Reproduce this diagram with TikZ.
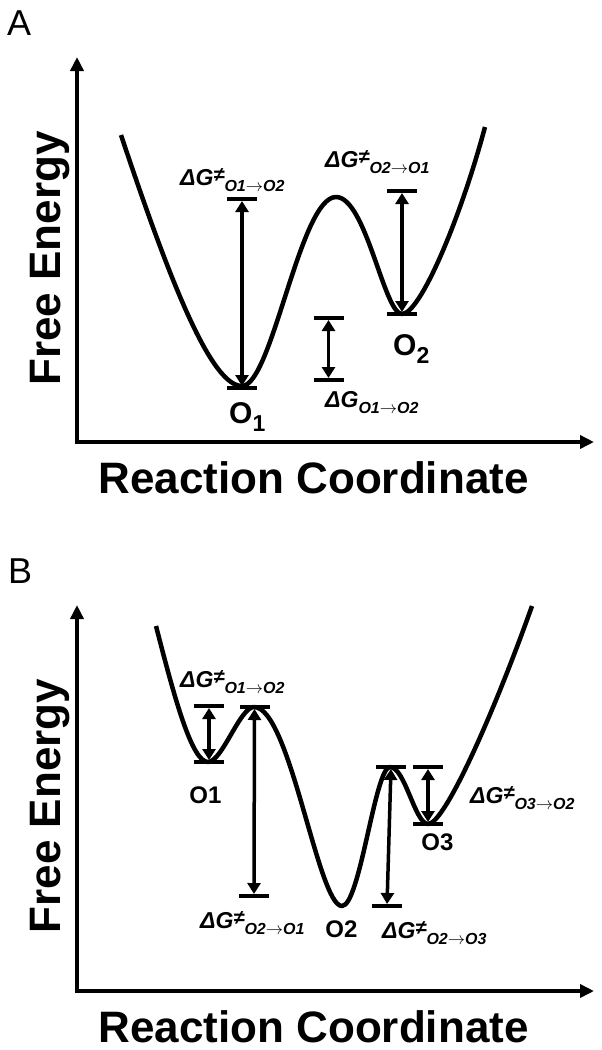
\documentclass[tikz,border=0pt]{standalone}
\usepackage{fontspec}
\setmainfont{Liberation Sans}
\usetikzlibrary{arrows.meta}

\newcommand{\dGts}[2]{\textbf{\textit{\fontsize{23}{23}\selectfont ΔG\raisebox{4pt}{\fontsize{20}{20}\selectfont ≠}\raisebox{-6pt}{\fontsize{16}{16}\selectfont #1$\rightarrow$#2}}}}
\newcommand{\dGeq}[2]{\textbf{\textit{\fontsize{23}{23}\selectfont ΔG\raisebox{-6pt}{\fontsize{16}{16}\selectfont #1$\rightarrow$#2}}}}
\newcommand{\osub}[1]{\raisebox{-8pt}{\fontsize{23}{23}\selectfont #1}}

\begin{document}
\begin{tikzpicture}
    [x=1pt,y=-1pt,
    axis/.style={-{Triangle[length=14pt,width=13pt]},line width=4.5pt,line cap=rect},
    curve/.style={line width=4.5pt,line join=round},
    level/.style={line width=4pt},
    gap/.style={{Triangle[length=11pt,width=13pt]}-{Triangle[length=11pt,width=13pt]},line width=3.5pt,shorten <=2pt,shorten >=2pt},
    panel/.style={font=\fontsize{36}{36}\selectfont,anchor=base west,inner sep=0pt},
    axislabel/.style={font=\fontsize{44}{44}\selectfont\bfseries,anchor=base,inner sep=0pt,text depth=0pt},
    state/.style={font=\fontsize{30}{30}\selectfont\bfseries,anchor=base west,inner sep=0pt},
    statetxt/.style={font=\fontsize{24}{24}\selectfont\bfseries,anchor=base,inner sep=0pt},
    dglabel/.style={anchor=base west,inner sep=0pt}]

    \useasboundingbox (0,0) rectangle (602,1050);

    % panel A
    \node (labA) [panel] at (7,35) {A};
    \coordinate (oA) at (77,442);
    \coordinate (topA) at (77,57);
    \coordinate (endA) at (594,442);
    \draw [axis] (oA) -- (topA);
    \draw [axis] (oA) -- (endA);
    \node (feA) [axislabel,rotate=90] at (60,258.5) {Free Energy};
    \node (rcA) [axislabel] at (313.5,493) {Reaction Coordinate};

    \draw [curve] (121,135) .. controls (172,288) and (212,386) .. (242,386)
        .. controls (272,386) and (300,197) .. (336,197)
        .. controls (366,197) and (384,314) .. (402,314)
        .. controls (420,314) and (460,220) .. (485,127);

    \coordinate (a1) at (242,388);
    \coordinate (a1t) at (242,199);
    \coordinate (a2) at (402,314);
    \coordinate (a2t) at (402,191);
    \coordinate (a3) at (328.5,380);
    \coordinate (a3t) at (328.5,318);
    \foreach \c in {a1,a1t,a2,a2t,a3,a3t}
        \draw [level] ([xshift=-15pt]\c) -- ([xshift=15pt]\c);
    \draw [gap] (a1) -- (a1t);
    \draw [gap] (a2) -- (a2t);
    \draw [gap] (a3) -- (a3t);

    \node (dgA1) [dglabel] at (180,185) {\dGts{O1}{O2}};
    \node (dgA2) [dglabel] at (325,167) {\dGts{O2}{O1}};
    \node (dgA3) [dglabel] at (325,407) {\dGeq{O1}{O2}};
    \node (o1A) [state] at (229,423) {O\osub{1}};
    \node (o2A) [state] at (393,355) {O\osub{2}};

    % panel B
    \node (labB) [panel] at (8,583) {B};
    \coordinate (oB) at (77,991);
    \coordinate (topB) at (77,605);
    \coordinate (endB) at (594,991);
    \draw [axis] (oB) -- (topB);
    \draw [axis] (oB) -- (endB);
    \node (feB) [axislabel,rotate=90] at (60,806) {Free Energy};
    \node (rcB) [axislabel] at (313.5,1042) {Reaction Coordinate};

    \draw [curve] (156,626) .. controls (175,700) and (192,762) .. (208,762)
        .. controls (222,762) and (240,707) .. (254,707)
        .. controls (290,707) and (318,906) .. (342,906)
        .. controls (360,906) and (375,767) .. (390,767)
        .. controls (405,767) and (415,824) .. (428,824)
        .. controls (445,824) and (495,710) .. (532,606);

    \coordinate (b1) at (209,762);
    \coordinate (b1t) at (209,706);
    \coordinate (b2t) at (254.5,707);
    \coordinate (b2) at (254,896);
    \coordinate (b3t) at (391,767);
    \coordinate (b3) at (387,906);
    \coordinate (b4t) at (428,767);
    \coordinate (b4) at (428,824);
    \foreach \c in {b1,b1t,b2,b2t,b3,b3t,b4,b4t}
        \draw [level] ([xshift=-15pt]\c) -- ([xshift=15pt]\c);
    \draw [gap] (b1) -- (b1t);
    \draw [gap] (b2t) -- (b2);
    \draw [gap] (b3t) -- (b3);
    \draw [gap] (b4) -- (b4t);

    \node (dgB1) [dglabel] at (180,687) {\dGts{O1}{O2}};
    \node (dgB2) [dglabel] at (200,928) {\dGts{O2}{O1}};
    \node (dgB3) [dglabel] at (382,938) {\dGts{O2}{O3}};
    \node (dgB4) [dglabel] at (470,803) {\dGts{O3}{O2}};
    \node (o1B) [statetxt] at (205.5,803) {O1};
    \node (o2B) [statetxt] at (341.5,937) {O2};
    \node (o3B) [statetxt] at (437.5,850) {O3};
\end{tikzpicture}
\end{document}
